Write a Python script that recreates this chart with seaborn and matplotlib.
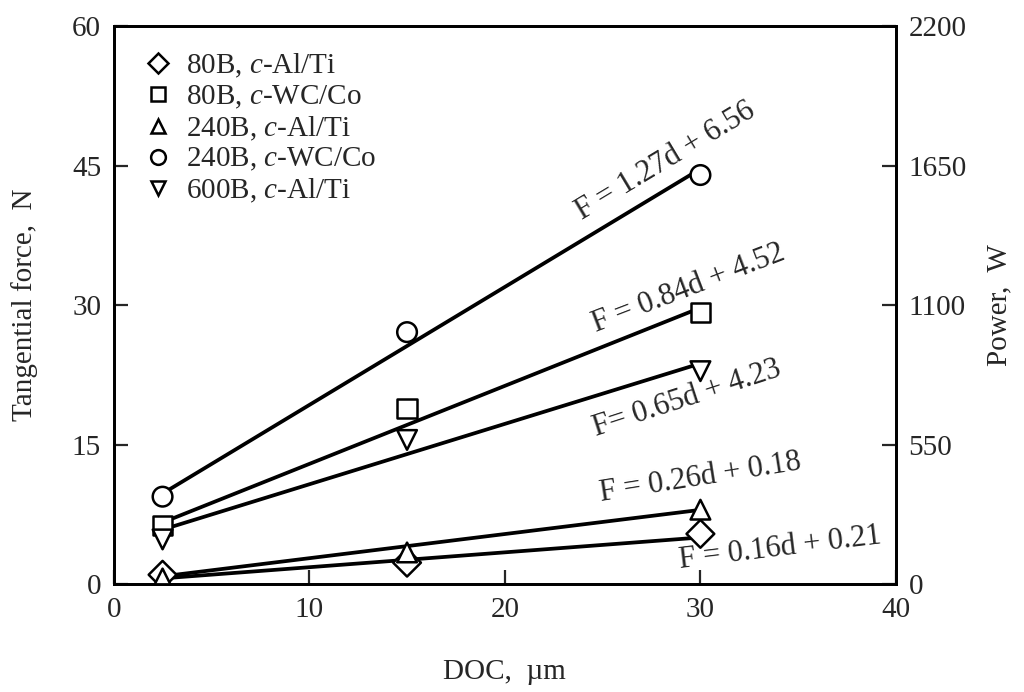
import matplotlib
matplotlib.use("Agg")
import matplotlib.pyplot as plt
import seaborn as sns
import pandas as pd

# ---- data ----
doc = [2.5, 15, 30]
series = ["80B, $\\it{c}$-Al/Ti", "80B, $\\it{c}$-WC/Co", "240B, $\\it{c}$-Al/Ti",
          "240B, $\\it{c}$-WC/Co", "600B, $\\it{c}$-Al/Ti"]
markers = ["D", "s", "^", "o", "v"]
force_80B_AlTi = [1.0, 2.3, 5.4]
force_80B_WCCo = [6.3, 18.9, 29.2]
force_240B_AlTi = [0.6, 3.4, 8.0]
force_240B_WCCo = [9.4, 27.1, 44.0]
force_600B_AlTi = [4.8, 15.5, 22.9]
fit_slope = [0.16, 0.84, 0.26, 1.27, 0.65]
fit_intercept = [0.21, 4.52, 0.18, 6.56, 4.23]
fit_labels = ["F = 0.16d + 0.21", "F = 0.84d + 4.52", "F = 0.26d + 0.18",
              "F = 1.27d + 6.56", "F= 0.65d + 4.23"]
x_ticks = [0, 10, 20, 30, 40]
y_ticks = [0, 15, 30, 45, 60]
power_ticks = [0, 550, 1100, 1650, 2200]

sns.set_theme(style="ticks")
plt.rcParams["font.family"] = ["Liberation Serif", "DejaVu Serif"]
plt.rcParams["mathtext.fontset"] = "custom"
plt.rcParams["mathtext.rm"] = "Liberation Serif"
plt.rcParams["mathtext.it"] = "Liberation Serif:italic"

all_forces = [force_80B_AlTi, force_80B_WCCo, force_240B_AlTi, force_240B_WCCo, force_600B_AlTi]
rows = []
for s, f in zip(series, all_forces):
    for d, v in zip(doc, f):
        rows.append({"DOC": d, "F": v, "series": s})
pts = pd.DataFrame(rows)

fit_rows = []
for s, a, b in zip(series, fit_slope, fit_intercept):
    for d in (doc[0], doc[-1]):
        fit_rows.append({"DOC": d, "F": a * d + b, "series": s})
fits = pd.DataFrame(fit_rows)

FS = 21
fig = plt.figure(figsize=(10.24, 6.92), dpi=100)
ax = fig.add_axes([0.111, 0.156, 0.764, 0.806])

sns.lineplot(data=fits, x="DOC", y="F", units="series", estimator=None,
             color="black", lw=2.7, ax=ax, legend=False)
sns.scatterplot(data=pts, x="DOC", y="F", style="series", markers=dict(zip(series, markers)),
                style_order=series, s=200, facecolor="white", edgecolor="black",
                linewidth=1.8, ax=ax, zorder=5)

ax.set_xlim(0, 40)
ax.set_ylim(0, 60)
ax.set_xticks(x_ticks)
ax.set_yticks(y_ticks)
ax.set_xlabel("DOC,  µm", fontsize=FS)
ax.set_ylabel("Tangential force,  N", fontsize=FS)
ax.xaxis.set_label_coords(0.5, -0.135)
ax.yaxis.set_label_coords(-0.097, 0.5)
ax.tick_params(direction="in", length=10, width=1.6, labelsize=FS, pad=9)
for sp in ax.spines.values():
    sp.set_linewidth(2.0)
    sp.set_color("black")

ax2 = ax.twinx()
ax2.set_ylim(0, 2200)
ax2.set_yticks(power_ticks)
ax2.set_ylabel("Power,  W", fontsize=FS)
ax2.yaxis.set_label_coords(1.115, 0.5)
ax2.tick_params(direction="in", length=10, width=1.6, labelsize=FS, pad=9)
for sp in ax2.spines.values():
    sp.set_linewidth(2.0)
    sp.set_color("black")

leg = ax.legend(loc="upper left", bbox_to_anchor=(0.02, 0.975), frameon=False,
                fontsize=FS, handletextpad=0.35, labelspacing=0.12,
                borderaxespad=0.0, markerscale=0.75, handlelength=1.2)

# equation labels
label_pos = [(34.1, 3.9, 7), (29.4, 31.8, 21), (30.0, 11.4, 9), (28.2, 45.5, 31), (29.3, 19.9, 18)]
for (x, y, r), t in zip(label_pos, fit_labels):
    ax.text(x, y, t, rotation=r, rotation_mode="anchor", ha="center", va="center",
            fontsize=FS + 1, zorder=6)

fig.savefig("out.png", dpi=100)
